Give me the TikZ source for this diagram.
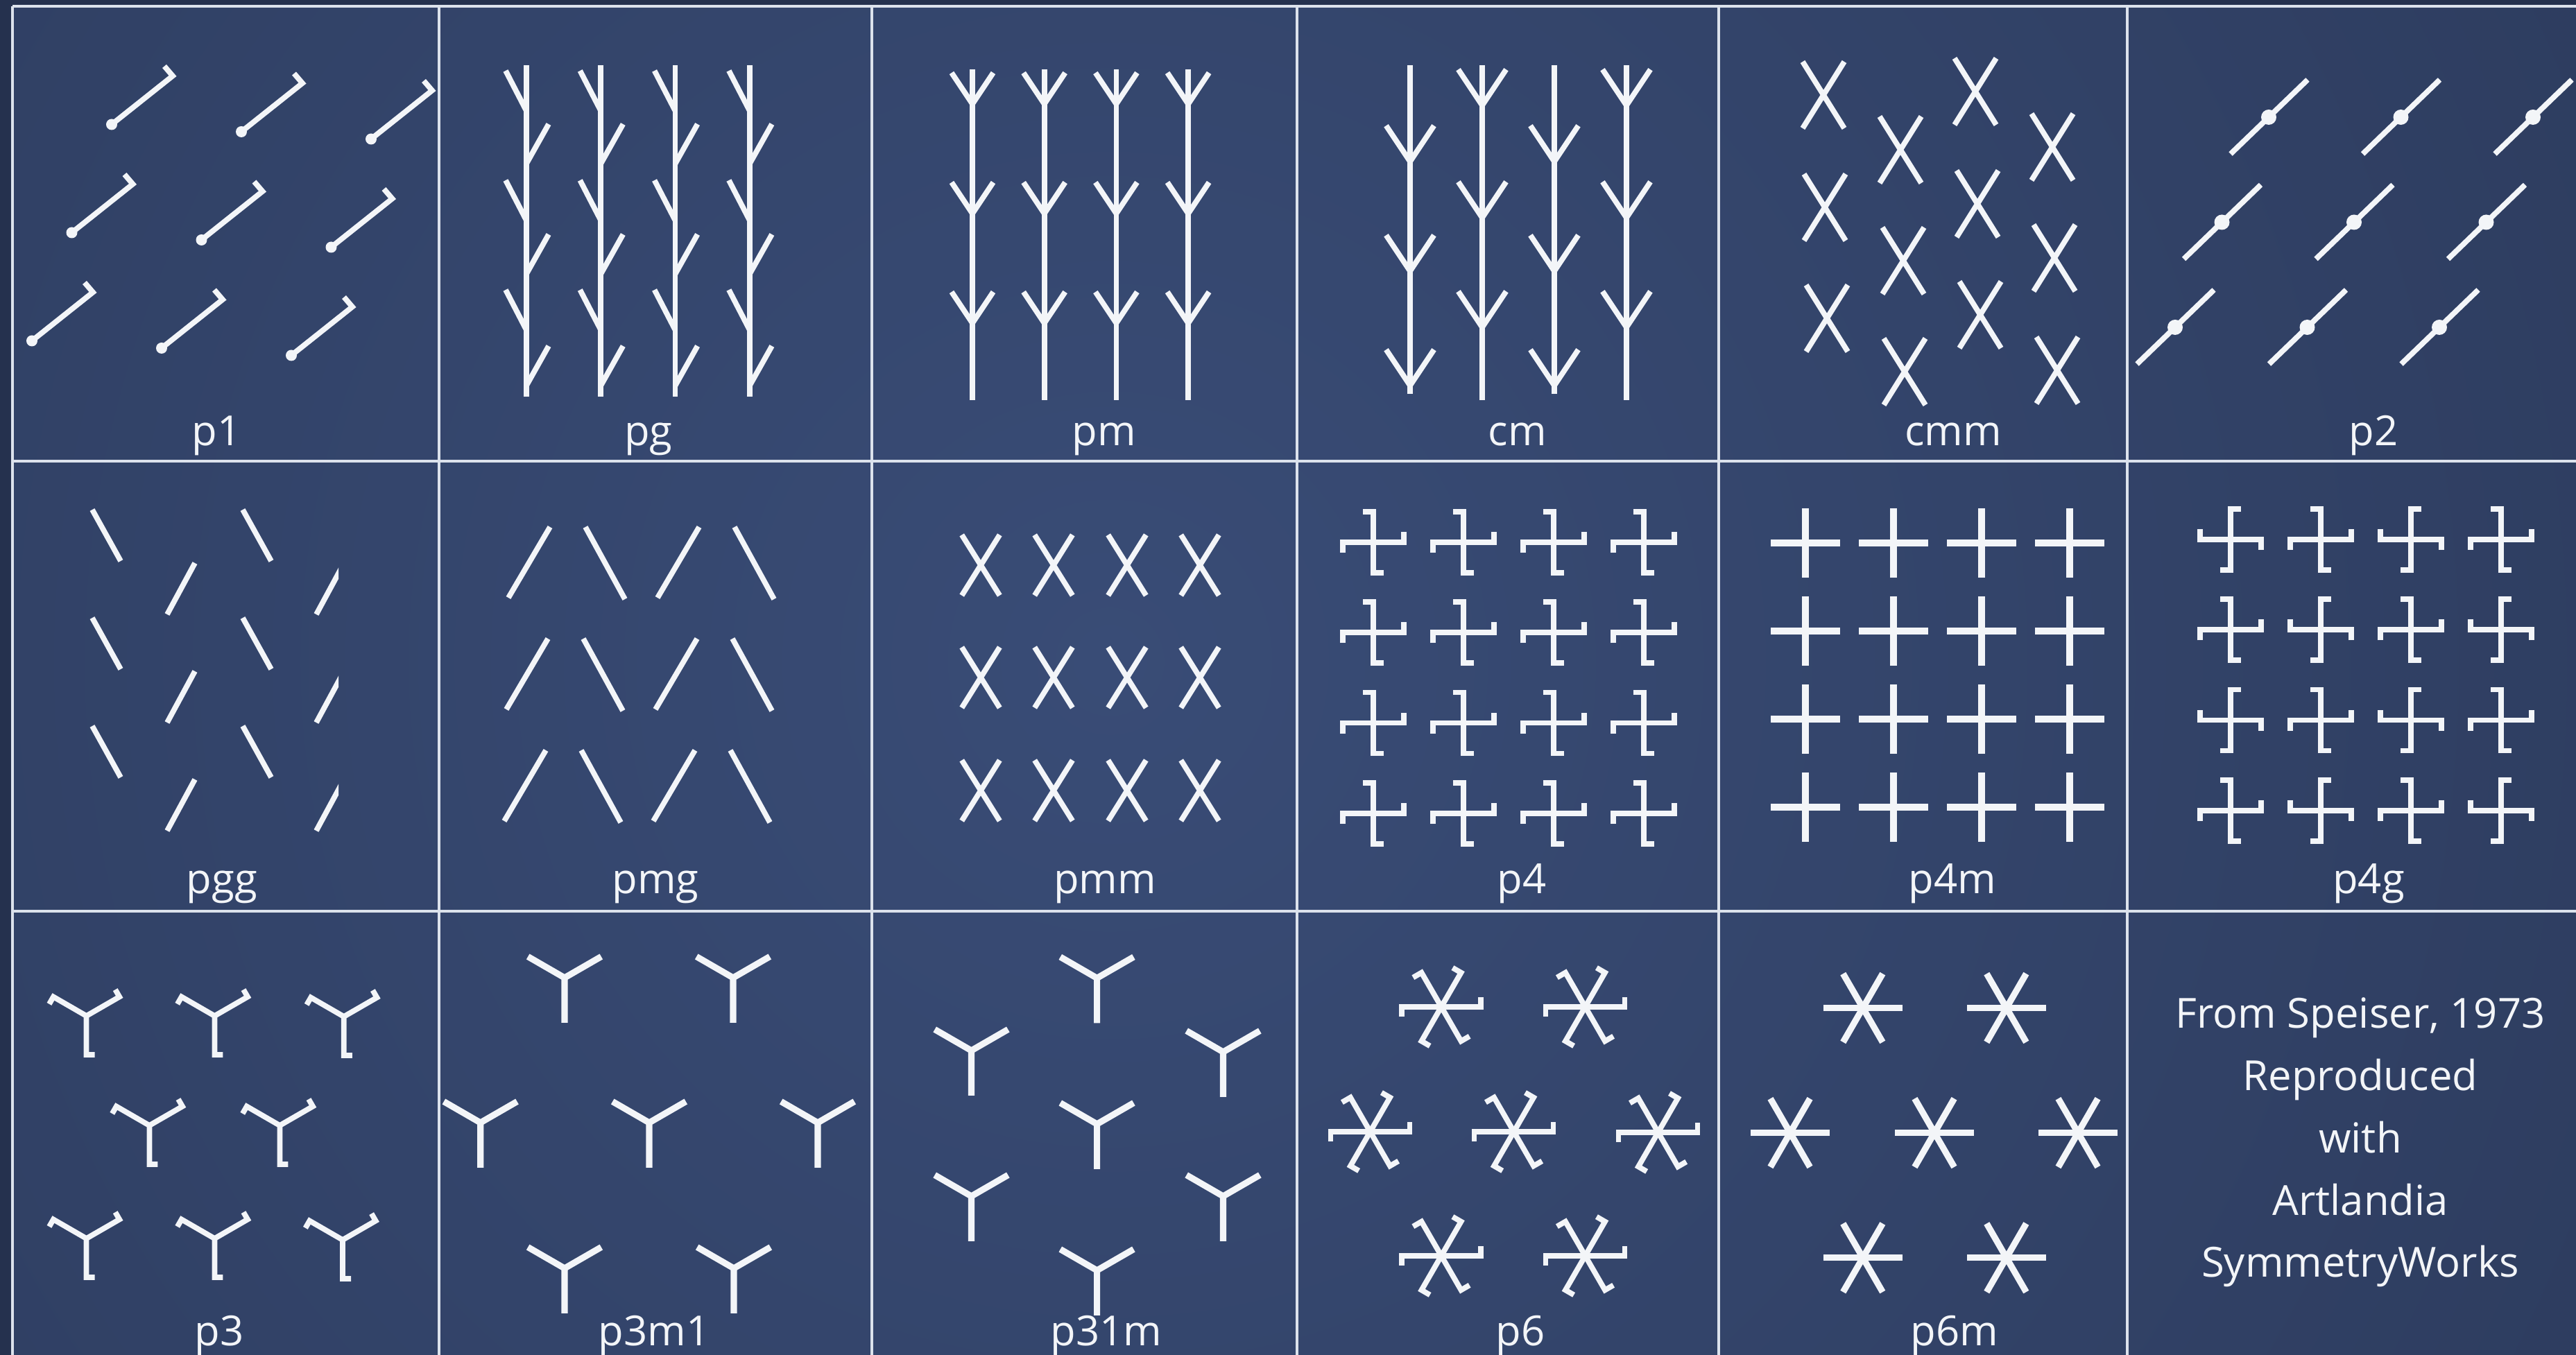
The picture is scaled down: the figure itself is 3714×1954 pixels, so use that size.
\documentclass[tikz,border=0pt]{standalone}
\usepackage{fontspec}
\setmainfont{Open Sans}
\usepackage{xcolor}
\definecolor{bgdark}{HTML}{25314E}
\definecolor{bglight}{HTML}{394C76}
\definecolor{ink}{HTML}{F3F5F8}
\definecolor{rule}{HTML}{DCE2EC}

\begin{document}
\begin{tikzpicture}[x=0.01cm, y=0.01cm,
  stroke/.style={draw=ink, line width=2.2pt},
  boldstroke/.style={draw=ink, line width=2.6pt},
  cellline/.style={draw=rule, line width=1.2pt},
  grouplabel/.style={text=ink, anchor=base, inner sep=0pt, font=\fontsize{17}{20}\selectfont},
  hookline/.pic={\draw[stroke] (0,0) -- (88,70) -- (76,84); \fill[ink] (0,0) circle (8);},
  dotline/.pic={\draw[stroke] (-55,-53) -- (56,54); \fill[ink] (0,0) circle (11);},
  chev/.pic={\draw[stroke] (-30,45) -- (0,0) -- (30,45);},
  xcross/.pic={\draw[stroke] (-30,-48) -- (30,48) (-30,48) -- (30,-48);},
  pinwheel/.pic={\draw[stroke] (-15,44) -- (0,44) -- (0,-44) -- (15,-44) (-44,-15) -- (-44,0) -- (44,0) -- (44,15);},
  plus/.pic={\draw[boldstroke] (-50,0) -- (50,0) (0,-50) -- (0,50);},
  yfork/.pic={\draw[boldstroke] (0,-65) -- (0,0) -- (30:61) (0,0) -- (150:61);},
  yhook/.pic={\draw[stroke] (12,-56) -- (0,-56) -- (0,0) -- (30:55) -- ++(120:12) (0,0) -- (150:55) -- ++(240:12);},
  starhook/.pic={\foreach \a in {0,60,...,300} \draw[stroke] (0,0) -- (\a:57) -- ++({\a+90}:14);},
  asterisk/.pic={\foreach \a in {0,60,120} \draw[boldstroke] (\a:57) -- ({\a+180}:57);}
]
  \useasboundingbox (0,0) rectangle (3714,1954);
  \fill[bgdark] (0,0) rectangle (3714,1954);
  \begin{scope}
    \clip (18,0) rectangle (3714,1945);
    \shade[inner color=bglight, outer color=bgdark] (1600,1000) circle (4200);
  \end{scope}

  % p1
  \foreach \i in {0,1,2} \foreach \j in {0,1,2}
    \pic at ({161+187*\i-57.5*\j},{1774.5-10.5*\i-156*\j}) {hookline};
  % pg
  \foreach \k in {0,...,3} {
    \draw[stroke] ({759+107.3*\k},1860) -- ({759+107.3*\k},1382);
    \foreach \y in {1794,1636,1478} \draw[stroke] ({759+107.3*\k},\y) -- ++(-30,58);
    \foreach \y in {1718,1559,1398} \draw[stroke] ({759+107.3*\k},\y) -- ++(32,57);
  }
  % pm
  \foreach \k in {0,...,3} {
    \draw[stroke] ({1402+103.7*\k},1854) -- ++(0,-477);
    \foreach \y in {1804,1646,1488} \pic at ({1402+103.7*\k},\y) {chev};
  }
  % cm
  \foreach \x in {2033,2241} {
    \draw[stroke] (\x,1860) -- (\x,1386);
    \foreach \y in {1721,1563,1398} \pic[scale=1.15] at (\x,\y) {chev};
  }
  \foreach \x in {2137,2345} {
    \draw[stroke] (\x,1860) -- (\x,1377);
    \foreach \y in {1802,1640,1482} \pic[scale=1.15] at (\x,\y) {chev};
  }
  % cmm
  \foreach \x/\y in {2629/1817,2631/1655,2634/1495,2740/1738,2744/1578,2746/1418,
                     2848/1822,2851/1660,2855/1500,2959/1742,2962/1582,2966/1420}
    \pic at (\x,\y) {xcross};
  % p2
  \begin{scope}
    \clip (3067,1289) rectangle (3714,1945);
    \foreach \i in {0,1,2} \foreach \j in {0,1,2}
      \pic at ({3271+190.5*\i-67.5*\j},{1785-151.5*\j}) {dotline};
  \end{scope}

  % pgg
  \begin{scope}
    \clip (18,752) rectangle (488,1289);
    \foreach \x in {133,350} \foreach \y in {1219,1063,907}
      \draw[stroke] (\x,\y) -- ++(41,-74);
    \foreach \x in {241,456} \foreach \y in {1068,912,756}
      \draw[stroke] (\x,\y) -- ++(40,74);
  \end{scope}
  % pmg
  \foreach \j in {0,1,2} \foreach \x in {733,948} {
    \draw[stroke] ({\x-3*\j},{1092-161*\j}) -- ++(60,102);
    \draw[stroke] ({\x+111-3*\j},{1194-161*\j}) -- ++(57,-104);
  }
  % pmm
  \foreach \x in {1414,1519,1625,1730} \foreach \y in {1139,977,814}
    \pic[scale=0.91] at (\x,\y) {xcross};
  % p4
  \foreach \i in {0,...,3} \foreach \j in {0,...,3}
    \pic at ({1980+130*\i},{1172-130.3*\j}) {pinwheel};
  % p4m
  \foreach \i in {0,...,3} \foreach \j in {0,...,3}
    \pic at ({2603+127*\i},{1171-127*\j}) {plus};
  % p4g
  \foreach \i in {0,...,3} \foreach \j in {0,...,3} {
    \pgfmathtruncatemacro\flip{1-2*mod(\i+\j+1,2)}
    \pic[xscale=\flip] at ({3216+130*\i},{1176-130.3*\j}) {pinwheel};
  }

  % p3
  \foreach \x/\y in {124.6/489,309.4/489,495.8/488,215.4/331,403.4/331,124.6/168,309.4/168,494/166}
    \pic at (\x,\y) {yhook};
  % p3m1
  \begin{scope}
    \clip (633,0) rectangle (1257,640);
    \foreach \x/\y in {814/544,1057/544,692.7/335,936/335,1179/335,814/125,1058/125}
      \pic at (\x,\y) {yfork};
  \end{scope}
  % p31m
  \foreach \x/\y in {1581.6/543.5,1400.5/439,1763.5/437,1581.6/333,1400.5/229,1763.5/229,1581.6/122}
    \pic at (\x,\y) {yfork};
  % p6
  \foreach \x/\y in {2078/502,2285.5/502,1975.5/322,2182.6/322,2390.6/321,2078/143,2285.5/143}
    \pic at (\x,\y) {starhook};
  % p6m
  \foreach \x/\y in {2685.8/500.5,2892.8/500.5,2581/320.4,2789/320.4,2996/320.4,2685.8/140.2,2892.8/140.2}
    \pic at (\x,\y) {asterisk};

  \foreach \x in {18,633,1257,1870,2478,3067} \draw[cellline] (\x,1945) -- (\x,0);
  \foreach \y in {1945,1289,640} \draw[cellline] (18,\y) -- (3714,\y);

  \foreach \t/\x/\y in {p1/312/1311, pg/935/1311, pm/1592/1311, cm/2188/1311, cmm/2816/1311, p2/3422/1311,
      pgg/320/665, pmg/945/665, pmm/1593/665, p4/2194/665, p4m/2815/665, p4g/3415/665,
      p3/316/14, p3m1/943/14, p31m/1595/14, p6/2192/14, p6m/2818/14}
    \node[grouplabel] (lbl-\t) at (\x,\y) {\t};

  \foreach \t [count=\n from 0] in {{From Speiser, 1973},Reproduced,with,Artlandia,SymmetryWorks}
    \node[grouplabel] (credit\n) at (3403,{471-89.75*\n}) {\t};
\end{tikzpicture}
\end{document}
